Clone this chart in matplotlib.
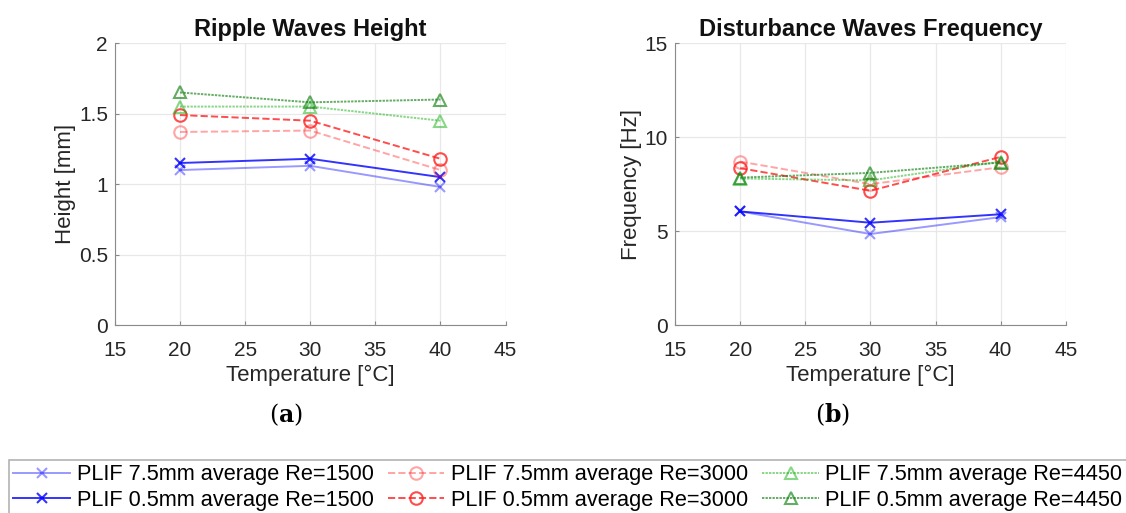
import numpy as np
import matplotlib.pyplot as plt

plt.rcParams['font.family'] = ['Liberation Sans', 'DejaVu Sans']
plt.rcParams['mathtext.fontset'] = 'dejavuserif'

temps = [20, 30, 40]

# ripple waves height [mm]
h_75_1500 = [1.10, 1.13, 0.98]
h_05_1500 = [1.15, 1.18, 1.05]
h_75_3000 = [1.37, 1.38, 1.10]
h_05_3000 = [1.49, 1.45, 1.18]
h_75_4450 = [1.55, 1.55, 1.45]
h_05_4450 = [1.65, 1.58, 1.60]

# disturbance waves frequency [Hz]
f_75_1500 = [6.05, 4.85, 5.75]
f_05_1500 = [6.05, 5.45, 5.90]
f_75_3000 = [8.70, 7.50, 8.40]
f_05_3000 = [8.35, 7.15, 8.95]
f_75_4450 = [7.80, 7.70, 8.70]
f_05_4450 = [7.85, 8.10, 8.65]

labels = ['PLIF 7.5mm average Re=1500', 'PLIF 0.5mm average Re=1500',
          'PLIF 7.5mm average Re=3000', 'PLIF 0.5mm average Re=3000',
          'PLIF 7.5mm average Re=4450', 'PLIF 0.5mm average Re=4450']

dots = (0, (1.2, 0.6))
styles = [
    dict(color='#0000ff', alpha=0.4, ls='-', marker='x', ms=7, mfc='none'),
    dict(color='#0000ff', alpha=0.8, ls='-', marker='x', ms=7, mfc='none'),
    dict(color='#ff2020', alpha=0.4, ls='--', marker='o', ms=9, mfc='none'),
    dict(color='#ff2020', alpha=0.8, ls='--', marker='o', ms=9, mfc='none'),
    dict(color='#10b010', alpha=0.5, ls=dots, marker='^', ms=9, mfc='none'),
    dict(color='#108010', alpha=0.65, ls=dots, marker='^', ms=9, mfc='none'),
]

fig = plt.figure(figsize=(11.26, 5.13), dpi=100)
ax1 = fig.add_axes([0.102, 0.366, 0.347, 0.55])
ax2 = fig.add_axes([0.5995, 0.366, 0.347, 0.55])

height_sets = [h_75_1500, h_05_1500, h_75_3000, h_05_3000, h_75_4450, h_05_4450]
freq_sets = [f_75_1500, f_05_1500, f_75_3000, f_05_3000, f_75_4450, f_05_4450]

handles = []
for vals, st, lab in zip(height_sets, styles, labels):
    ln, = ax1.plot(temps, vals, lw=1.4, mew=1.5, label=lab, **st)
    handles.append(ln)
for vals, st in zip(freq_sets, styles):
    ax2.plot(temps, vals, lw=1.4, mew=1.5, **st)

for ax, ttl, yl, ylim, yt in [
        (ax1, 'Ripple Waves Height', 'Height [mm]', (0, 2), [0, 0.5, 1, 1.5, 2]),
        (ax2, 'Disturbance Waves Frequency', 'Frequency [Hz]', (0, 15), [0, 5, 10, 15])]:
    ax.set_xlim(15, 45)
    ax.set_ylim(*ylim)
    ax.set_xticks([15, 20, 25, 30, 35, 40, 45])
    ax.set_yticks(yt)
    ax.set_yticklabels([f'{v:g}' for v in yt])
    ax.set_title(ttl, fontsize=17, fontweight='bold', pad=5, color='#111111')
    ax.set_ylabel(yl, fontsize=16, color='#262626', labelpad=2)
    ax.set_xlabel('Temperature [°C]', fontsize=16, color='#262626', labelpad=4)
    ax.tick_params(labelsize=15, colors='#262626', direction='in', length=3,
                   width=0.8, pad=5)
    ax.tick_params(axis='x', pad=11)
    ax.tick_params(axis='both', color='#888888')
    ax.grid(True, color='#e8e8e8', lw=0.9)
    for s in ['top', 'right']:
        ax.spines[s].set_visible(False)
    for s in ['left', 'bottom']:
        ax.spines[s].set_color('#8a8a8a')

fig.text(0.254, 0.177, r'($\mathbf{a}$)', ha='center', fontsize=17, fontfamily='DejaVu Serif')
fig.text(0.739, 0.177, r'($\mathbf{b}$)', ha='center', fontsize=17, fontfamily='DejaVu Serif')

leg = fig.legend(handles=handles, loc='lower left', bbox_to_anchor=(0.008, -0.004),
                 ncol=3, fontsize=15.7, frameon=True, fancybox=False,
                 edgecolor='#a0a0a0', handlelength=2.6, handletextpad=0.3,
                 columnspacing=0.65, labelspacing=0.2, borderpad=0.2,
                 borderaxespad=0)
leg.get_frame().set_linewidth(1.2)

fig.savefig('out.png', dpi=100)
